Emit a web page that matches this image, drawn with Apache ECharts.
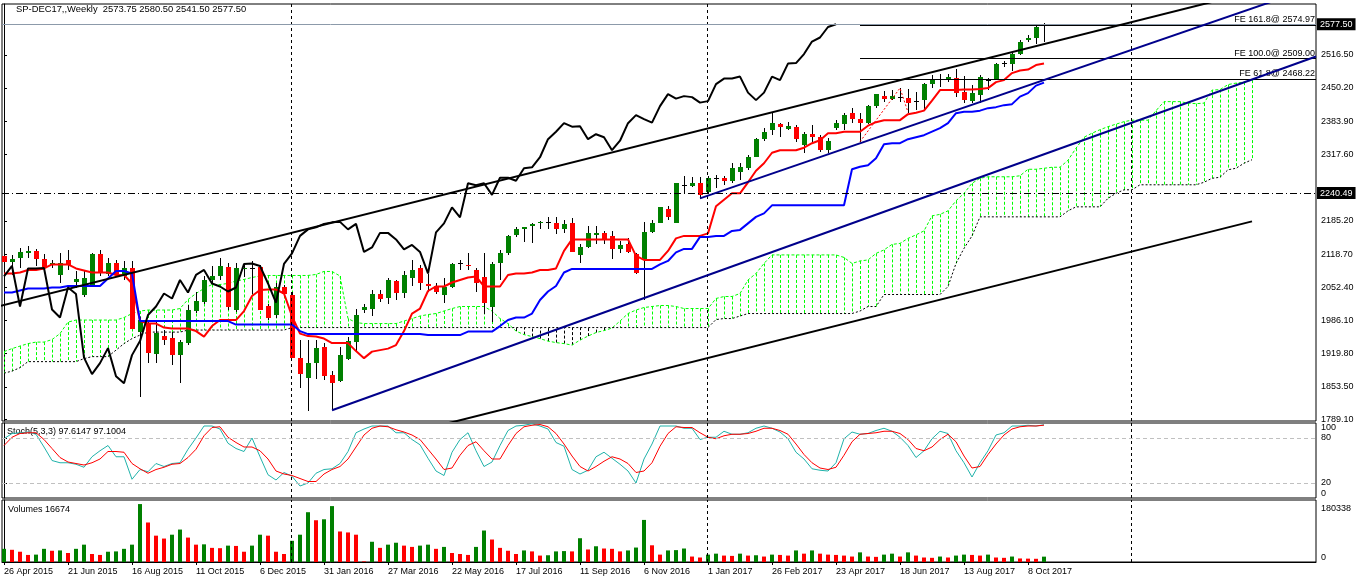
<!DOCTYPE html>
<html>
<head>
<meta charset="utf-8">
<script src="https://cdn.jsdelivr.net/npm/echarts@6/dist/echarts.min.js"></script>
<style>
html,body{margin:0;padding:0;background:#fff;}
#chart{width:1358px;height:584px;}
</style>
</head>
<body>
<div id="chart"></div>
<script>
// weekly bars, SP-DEC17, 26 Apr 2015 .. 22 Oct 2017
var opens = [2115,2103,2111,2120,2125,2108,2097,2076,2106,2062,
 2038,2057,2119,2078,2100,2074,2090,1963,1982,1919,
 1955,1951,1917,1942,2005,2024,2067,2074,2092,2007,
 2089,2090,2092,2015,1997,2052,2038,1911,1871,1902,
 1933,1877,1866,1909,1944,2008,2010,2039,2032,2064,
 2042,2070,2090,2059,2054,2038,2052,2101,2097,2086,
 2072,2014,2100,2120,2156,2168,2175,2181,2183,2181,
 2168,2180,2117,2132,2157,2161,2155,2128,2139,2119,
 2108,2163,2181,2208,2181,2256,2255,2260,2243,2271,
 2270,2264,2283,2291,2313,2348,2366,2378,2368,2373,
 2336,2358,2352,2326,2370,2378,2401,2388,2380,2414,
 2435,2428,2432,2431,2424,2426,2458,2469,2468,2471,
 2443,2425,2436,2467,2467,2500,2498,2518,2546,2551,
 2573.75];
var highs = [2120,2117,2130,2135,2128,2119,2107,2120,2126,2084,
 2086,2120,2126,2110,2107,2104,2105,1994,1987,1984,
 1967,1964,1947,2017,2044,2074,2094,2110,2100,2100,
 2096,2104,2097,2020,2060,2057,2044,1948,1947,1947,
 1941,1886,1934,1954,2010,2019,2047,2047,2070,2067,
 2084,2107,2097,2079,2060,2070,2100,2107,2120,2090,
 2120,2102,2127,2157,2172,2173,2180,2185,2192,2192,
 2187,2190,2139,2175,2175,2165,2165,2145,2150,2120,
 2182,2187,2213,2215,2261,2274,2272,2272,2274,2276,
 2274,2300,2300,2316,2350,2370,2400,2380,2383,2376,
 2363,2376,2356,2350,2386,2400,2410,2400,2416,2438,
 2445,2446,2450,2448,2443,2461,2476,2478,2478,2489,
 2474,2456,2476,2470,2501,2505,2521,2547,2556,2576,
 2580.5];
var lows = [2095,2077,2090,2110,2094,2088,2090,2060,2087,2050,
 2034,2054,2074,2074,2072,2067,1969,1834,1901,1901,
 1937,1897,1862,1937,2002,2020,2060,2067,2007,2004,
 2072,2040,2007,1987,1992,2034,1911,1851,1806,1870,
 1867,1807,1864,1907,1924,2002,1995,2024,2020,2027,
 2032,2054,2047,2044,2040,2022,2050,2086,2087,2044,
 2000,1984,2067,2117,2152,2143,2141,2168,2168,2159,
 2160,2123,2101,2130,2139,2139,2108,2120,2120,2079,
 2027,2161,2180,2187,2180,2241,2253,2228,2241,2250,
 2256,2260,2266,2286,2312,2345,2356,2353,2366,2343,
 2320,2340,2323,2320,2366,2366,2381,2343,2378,2410,
 2423,2426,2423,2401,2406,2406,2451,2453,2463,2432,
 2421,2421,2420,2446,2466,2493,2484,2516,2543,2539,
 2541.5];
var closes = [2102,2108,2122,2125,2108,2092,2100,2100,2097,2068,
 2070,2119,2080,2100,2077,2090,1970,1987,1921,1962,
 1948,1917,1944,2008,2026,2067,2074,2095,2014,2090,
 2090,2091,2008,1992,2052,2039,1912,1879,1901,1931,
 1875,1861,1917,1945,1997,2014,2040,2030,2067,2042,
 2077,2087,2060,2054,2044,2052,2099,2100,2095,2060,
 2022,2099,2120,2155,2168,2172,2179,2182,2183,2168,
 2179,2123,2132,2161,2161,2148,2128,2137,2123,2080,
 2162,2180,2212,2192,2260,2256,2260,2237,2271,2271,
 2265,2290,2292,2312,2348,2363,2380,2373,2374,2348,
 2358,2352,2326,2345,2380,2396,2388,2381,2414,2438,
 2429,2434,2432,2421,2424,2458,2469,2469,2473,2441,
 2426,2441,2473,2466,2499,2500,2518,2543,2551,2572,
 2577.5];

var volumes = [41000,38000,32000,22000,23000,41000,35000,36000,28000,41000,
 54000,25000,22000,32000,33000,41000,54000,180338,123000,82000,
 73000,85000,101000,76000,54000,55000,44000,43000,51000,50000,
 32000,51000,85000,82000,32000,25000,66000,85000,155000,130000,
 133000,174000,95000,92000,85000,2000,63000,44000,54000,60000,
 51000,47000,51000,54000,41000,47000,28000,25000,22000,47000,
 98000,70000,44000,35000,25000,36000,33000,20000,21000,33000,
 34000,33000,74000,39000,49000,42000,41000,33000,36000,45000,
 131000,52000,23000,36000,37000,42000,17000,14000,23000,26000,
 20000,19000,26000,20000,21000,17000,23000,22000,20000,36000,
 26000,36000,26000,23000,22000,20000,17000,30000,17000,16000,
 23000,26000,17000,30000,20000,14000,13000,17000,14000,20000,
 23000,22000,20000,23000,14000,13000,17000,11000,10500,10000,
 16674];
var volumeUp = [1,0,0,0,1,1,0,1,0,1,
 1,0,0,1,1,1,1,1,0,0,
 0,1,1,0,0,1,0,0,1,0,
 0,1,1,0,0,0,1,1,1,0,
 1,1,0,0,0,0,1,0,1,1,
 0,0,1,1,0,1,0,0,0,1,
 1,0,0,0,0,1,0,0,1,1,
 1,0,1,0,1,0,0,0,1,1,
 1,0,0,1,1,1,0,0,1,1,
 0,0,1,0,1,0,1,0,0,1,
 0,1,0,0,0,0,0,1,0,0,
 1,1,0,1,0,0,0,1,0,1,
 1,0,0,1,0,0,1,0,0,0,
 1];

var stochMain = [79,86,87,88,85,68,50,47,47,45,
 41,55,63,70,55,55,25,38,35,46,
 42,46,47,65,80,96,96,92,73,66,
 62,80,55,31,24,34,29,16,20,33,
 38,39,46,62,87,92,96,96,96,87,
 87,78,71,53,36,30,61,78,87,63,
 42,48,70,90,96,97,99,96,92,74,
 69,38,32,37,55,61,53,45,36,20,
 52,72,96,96,96,93,93,78,81,81,
 89,85,85,87,93,96,93,88,79,61,
 52,39,37,36,47,79,88,85,86,90,
 93,89,81,70,54,63,79,89,86,63,
 47,28,47,63,84,87,96,96,97,96,
 97.6147];
var stochSignal = [70,81,86,87,87,78,66,54,48,46,
 44,47,52,62,62,61,46,39,33,38,
 41,45,46,54,65,83,94,95,81,74,
 68,68,63,52,36,32,30,26,22,22,
 32,38,42,52,68,84,93,96,95,91,
 88,84,78,65,52,38,40,57,70,75,
 63,52,52,70,86,95,97,98,95,86,
 72,56,42,36,42,49,55,52,46,34,
 36,47,69,86,95,94,94,87,81,79,
 83,85,85,86,89,93,93,90,85,72,
 58,47,40,38,41,57,75,85,86,87,
 89,89,86,78,66,63,68,78,85,75,
 56,40,42,58,72,84,92,95,96,96,
 97.1004];
var stochLevels = [20, 80];

var tenkan = [2080,2080,2082,2087,2087,2090,2098,2098,2098,2090,
 2086,2082,2082,2082,2077,2077,2060,1985,1980,1980,
 1972,1970,1970,1970,1965,1954,1975,1987,1987,1987,
 2005,2035,2047,2048,2048,2040,1995,1960,1955,1954,
 1950,1941,1941,1941,1925,1911,1924,1927,1930,1937,
 1965,2000,2010,2045,2054,2054,2062,2067,2072,2074,
 2054,2054,2054,2077,2080,2080,2082,2087,2087,2090,
 2125,2148,2148,2148,2148,2148,2148,2148,2148,2115,
 2107,2107,2107,2125,2150,2155,2155,2155,2160,2214,
 2227,2240,2240,2262,2285,2300,2321,2326,2326,2326,
 2331,2340,2346,2360,2360,2363,2363,2363,2375,2382,
 2386,2386,2386,2398,2401,2405,2425,2446,2446,2446,
 2447,2447,2448,2450,2462,2466,2480,2485,2487,2496,
 2499];
var kijun = [2042,2042,2046,2050,2050,2050,2052,2052,2055,2055,
 2055,2055,2055,2070,2085,2085,2080,1985,1985,1985,
 1985,1985,1985,1985,1985,1985,1985,1985,1985,1978,
 1978,1978,1978,1978,1978,1978,1978,1965,1959,1959,
 1959,1959,1959,1959,1959,1959,1959,1959,1959,1959,
 1959,1959,1959,1957,1957,1957,1957,1957,1964,1964,
 1964,1964,1975,1987,1992,1992,2000,2027,2044,2055,
 2082,2089,2089,2089,2089,2089,2089,2089,2089,2089,
 2089,2089,2098,2105,2122,2129,2129,2153,2153,2155,
 2155,2165,2167,2180,2193,2200,2216,2216,2216,2216,
 2216,2216,2216,2216,2216,2216,2288,2293,2296,2310,
 2338,2340,2340,2348,2352,2356,2363,2370,2380,2400,
 2403,2403,2405,2410,2412,2416,2418,2433,2440,2455,
 2461];
// cloud runs 26 weeks past the last bar
var spanA = [1924,1930,1935,1940,1943,1943,1948,1960,1983,1987,
 1987,1987,1987,1987,1987,1992,2000,2005,2007,2007,
 2007,2007,2010,2028,2040,2050,2058,2058,2060,2065,
 2068,2072,2075,2076,2076,2076,2076,2076,2076,2078,
 2084,2084,2075,1990,1982,1980,1980,1980,1980,1980,
 1985,1990,1995,1998,2000,2005,2010,2014,2014,2014,
 2014,2005,1990,1980,1965,1958,1954,1950,1945,1942,
 1940,1937,1947,1955,1962,1966,1971,1985,2000,2007,
 2012,2014,2016,2016,2014,2010,2010,2010,2010,2030,
 2034,2034,2040,2067,2080,2100,2117,2117,2117,2117,
 2117,2117,2117,2117,2117,2112,2100,2105,2107,2120,
 2127,2138,2140,2150,2157,2165,2195,2198,2205,2225,
 2240,2260,2270,2273,2273,2273,2273,2275,2288,2288,
 2290,2292,2292,2306,2330,2352,2360,2367,2373,2378,
 2383,2386,2386,2386,2405,2423,2423,2423,2420,2419,
 2420,2446,2447,2457,2460,2462,2466];
var spanB = [1881,1885,1892,1904,1904,1904,1904,1904,1904,1904,
 1910,1914,1914,1914,1927,1940,1950,1957,1963,1963,
 1963,1963,1963,1967,1967,1967,1967,1967,1967,1967,
 1967,1967,1967,1967,1967,1967,1972,1972,1972,1972,
 1972,1972,1972,1972,1972,1972,1972,1972,1972,1972,
 1972,1972,1972,1972,1972,1972,1972,1972,1972,1972,
 1972,1972,1972,1972,1972,1972,1972,1972,1972,1972,
 1972,1972,1972,1972,1972,1972,1972,1972,1972,1972,
 1972,1972,1972,1972,1972,1972,1972,1972,1972,1988,
 1990,1990,1995,2000,2000,2000,2000,2000,2000,2000,
 2000,2000,2000,2000,2000,2000,2000,2005,2014,2014,
 2038,2038,2038,2038,2038,2038,2038,2038,2054,2100,
 2130,2155,2193,2193,2193,2193,2193,2193,2193,2193,
 2193,2193,2193,2205,2213,2213,2213,2213,2230,2240,
 2247,2247,2257,2257,2257,2257,2257,2257,2257,2257,
 2262,2270,2272,2287,2290,2300,2307];
var chikouShift = 26;

var dateLabels = ["26 Apr 2015","21 Jun 2015","16 Aug 2015","11 Oct 2015","6 Dec 2015",
 "31 Jan 2016","27 Mar 2016","22 May 2016","17 Jul 2016","11 Sep 2016","6 Nov 2016",
 "1 Jan 2017","26 Feb 2017","23 Apr 2017","18 Jun 2017","13 Aug 2017","8 Oct 2017"];
var dateLabelBars = [0,8,16,24,32,40,48,56,64,72,80,88,96,104,112,120,128];
var priceTicks = [1789.1,1853.5,1919.8,1986.1,2052.4,2118.7,2185.2,2317.6,2383.9,2450.2,2516.5];
var yearSeparators = [36, 88, 141];

var hLinePrice = 2240.49;
var fiboLabels = ["FE 161.8@ 2574.97","FE 100.0@ 2509.00","FE 61.8@ 2468.22"];
var fiboPrices = [2574.97, 2509.00, 2468.22];
var fiboStartBar = 107;
var fiboBase = [[107, 2343], [112, 2450], [113, 2402]];

var upperBlackLine = [[-1, 2013], [152, 2626]];
var lowerBlackLine = [[55, 1779], [156, 2184]];
var lowerNavyLine = [[41, 1807], [164, 2513]];
var upperNavyLine = [[87, 2230], [160, 2631]];

var FONT = '"Liberation Sans", Arial, sans-serif';
var lastBar = closes.length - 1;
var xMin = -0.25, xMax = 164;

function pairs(arr, shift) {
	shift = shift || 0;
	return arr.map(function(v, i) { return [i - shift, v]; });
}

function renderCandle(params, api) {
	var i = api.value(0);
	var pO = api.coord([i, api.value(1)]);
	var pH = api.coord([i, api.value(2)]);
	var pL = api.coord([i, api.value(3)]);
	var pC = api.coord([i, api.value(4)]);
	var x = Math.round(pO[0]);
	var top = Math.round(Math.min(pO[1], pC[1]));
	var bot = Math.round(Math.max(pO[1], pC[1]));
	var kids = [{
		type: 'line',
		shape: {x1: x + 0.5, y1: Math.round(pH[1]), x2: x + 0.5, y2: Math.round(pL[1])},
		style: {stroke: '#000', lineWidth: 1}
	}];
	if (bot - top < 1) {
		kids.push({type: 'line', shape: {x1: x - 2, y1: top + 0.5, x2: x + 3, y2: top + 0.5}, style: {stroke: '#000', lineWidth: 1}});
	} else {
		kids.push({type: 'rect', shape: {x: x - 2, y: top, width: 5, height: bot - top},
			style: {fill: api.value(4) >= api.value(1) ? '#008000' : '#ff0000'}});
	}
	return {type: 'group', children: kids};
}

function renderCloud(params, api) {
	var i = api.value(0), a = api.value(1), b = api.value(2);
	var pA = api.coord([i, a]), pB = api.coord([i, b]);
	var x = Math.round(pA[0]) + 0.5;
	return {
		type: 'line',
		shape: {x1: x, y1: pA[1], x2: x, y2: pB[1]},
		style: {stroke: a >= b ? '#00ff00' : '#000000', lineWidth: 1, lineDash: [3, 2]}
	};
}

function renderVolume(params, api) {
	var i = api.value(0);
	var pT = api.coord([i, api.value(1)]), pB = api.coord([i, 0]);
	var x = Math.round(pT[0]);
	return {
		type: 'rect',
		shape: {x: x - 2, y: pT[1], width: 4, height: pB[1] - pT[1]},
		style: {fill: api.value(2) ? '#008000' : '#ff0000'}
	};
}

function separatorLines() {
	return {
		silent: true, symbol: 'none', animation: false,
		label: {show: false},
		lineStyle: {color: '#000', width: 1, type: [3, 3]},
		data: yearSeparators.map(function(b) { return {xAxis: b - 0.12}; })
	};
}

function boxLabel(text) {
	return {show: true, position: 'end', formatter: text, backgroundColor: '#000', color: '#fff',
		padding: [2, 3, 1, 3], fontSize: 9, fontFamily: FONT, distance: 1};
}

var mainMarks = separatorLines();
mainMarks.data = mainMarks.data.concat([
	{yAxis: closes[lastBar], lineStyle: {color: '#8c9aaa', type: 'solid', width: 1}, label: boxLabel(closes[lastBar].toFixed(2))},
	{yAxis: hLinePrice, lineStyle: {color: '#000', type: [7, 3, 1, 3], width: 1}, label: boxLabel(hLinePrice.toFixed(2))}
]);
fiboPrices.forEach(function(p, k) {
	mainMarks.data.push([
		{coord: [fiboStartBar, p], lineStyle: {color: '#000', type: 'solid', width: 1},
			label: {show: true, position: 'insideEndTop', formatter: fiboLabels[k], color: '#000', fontSize: 9, fontFamily: FONT, distance: 1}},
		{coord: [xMax, p]}
	]);
});

function trend(points, color, width, dash) {
	return {type: 'line', xAxisIndex: 0, yAxisIndex: 0, data: points, symbol: 'none', silent: true,
		lineStyle: {color: color, width: width, type: dash || 'solid'}, z: 6, animation: false};
}

var option = {
	animation: false,
	backgroundColor: '#fff',
	textStyle: {fontFamily: FONT, fontSize: 9},
	grid: [
		{left: 2, top: 4, width: 1314, height: 417, show: true, borderColor: '#000', borderWidth: 1, backgroundColor: '#fff'},
		{left: 2, top: 423, width: 1314, height: 75, show: true, borderColor: '#000', borderWidth: 1},
		{left: 2, top: 500, width: 1314, height: 62, show: true, borderColor: '#000', borderWidth: 1}
	],
	xAxis: [
		{gridIndex: 0, type: 'value', min: xMin, max: xMax, show: false},
		{gridIndex: 1, type: 'value', min: xMin, max: xMax, show: false},
		{gridIndex: 2, type: 'value', min: xMin, max: xMax,
			axisLine: {show: true, lineStyle: {color: '#000'}},
			axisTick: {show: true, customValues: dateLabelBars, length: 3, lineStyle: {color: '#000'}},
			axisLabel: {customValues: dateLabelBars, align: 'left', margin: 5, color: '#000', fontSize: 9, fontFamily: FONT,
				formatter: function(v) { return dateLabels[dateLabelBars.indexOf(v)]; }},
			splitLine: {show: false}}
	],
	yAxis: [
		{gridIndex: 0, type: 'value', position: 'right', min: 1785.5, max: 2617.9,
			axisLine: {show: true, lineStyle: {color: '#000'}},
			axisTick: {show: true, customValues: priceTicks, length: 3, lineStyle: {color: '#000'}},
			axisLabel: {customValues: priceTicks, margin: 5, color: '#000', fontSize: 9, fontFamily: FONT, padding: [3, 0, 0, 0],
				formatter: function(v) { return v.toFixed(2); }},
			splitLine: {show: false}},
		{gridIndex: 1, type: 'value', position: 'right', min: 0, max: 100,
			axisLine: {show: true, lineStyle: {color: '#000'}},
			axisTick: {show: true, customValues: stochLevels, length: 3, lineStyle: {color: '#000'}},
			axisLabel: {customValues: stochLevels, margin: 5, color: '#000', fontSize: 9, fontFamily: FONT},
			splitLine: {show: false}},
		{gridIndex: 1, type: 'value', position: 'right', min: 0, max: 100,
			axisLine: {show: false}, axisTick: {show: false},
			axisLabel: {customValues: [100], margin: 5, color: '#000', fontSize: 9, fontFamily: FONT, verticalAlign: 'top'},
			splitLine: {show: false}},
		{gridIndex: 1, type: 'value', position: 'right', min: 0, max: 100,
			axisLine: {show: false}, axisTick: {show: false},
			axisLabel: {customValues: [0], margin: 5, color: '#000', fontSize: 9, fontFamily: FONT, verticalAlign: 'bottom'},
			splitLine: {show: false}},
		{gridIndex: 2, type: 'value', position: 'right', min: 0, max: 193000,
			axisLine: {show: true, lineStyle: {color: '#000'}}, axisTick: {show: false},
			axisLabel: {customValues: [volumes[17]], margin: 5, color: '#000', fontSize: 9, fontFamily: FONT, verticalAlign: 'top',
				formatter: function(v) { return String(v); }},
			splitLine: {show: false}},
		{gridIndex: 2, type: 'value', position: 'right', min: 0, max: 193000,
			axisLine: {show: false}, axisTick: {show: false},
			axisLabel: {customValues: [0], margin: 5, color: '#000', fontSize: 9, fontFamily: FONT, verticalAlign: 'bottom',
				formatter: function(v) { return String(v); }},
			splitLine: {show: false}}
	],
	series: [
		{type: 'custom', name: 'Kumo', xAxisIndex: 0, yAxisIndex: 0, clip: true, silent: true, z: 1,
			renderItem: renderCloud, encode: {x: 0, y: [1, 2]},
			data: spanA.map(function(a, i) { return [i, a, spanB[i]]; })},
		{type: 'line', name: 'Senkou A', xAxisIndex: 0, yAxisIndex: 0, data: pairs(spanA), symbol: 'none', silent: true, z: 2,
			lineStyle: {color: '#00ff00', width: 1, type: [3, 2]}},
		{type: 'line', name: 'Senkou B', xAxisIndex: 0, yAxisIndex: 0, data: pairs(spanB), symbol: 'none', silent: true, z: 2,
			lineStyle: {color: '#000', width: 1, type: [2, 2]}},
		{type: 'custom', name: 'SP-DEC17', xAxisIndex: 0, yAxisIndex: 0, clip: true, z: 3,
			renderItem: renderCandle, encode: {x: 0, y: [1, 2, 3, 4]},
			data: opens.map(function(o, i) { return [i, o, highs[i], lows[i], closes[i]]; })},
		{type: 'line', name: 'Tenkan', xAxisIndex: 0, yAxisIndex: 0, data: pairs(tenkan), symbol: 'none', silent: true, z: 4,
			lineStyle: {color: '#ff0000', width: 2}, markLine: mainMarks},
		{type: 'line', name: 'Kijun', xAxisIndex: 0, yAxisIndex: 0, data: pairs(kijun), symbol: 'none', silent: true, z: 4,
			lineStyle: {color: '#0000ff', width: 2}},
		{type: 'line', name: 'Chikou', xAxisIndex: 0, yAxisIndex: 0, data: pairs(closes, chikouShift).slice(chikouShift), symbol: 'none', silent: true, z: 4,
			lineStyle: {color: '#000', width: 2}},
		trend(upperBlackLine, '#000', 2),
		trend(lowerBlackLine, '#000', 2),
		trend(lowerNavyLine, '#00008b', 2),
		trend(upperNavyLine, '#00008b', 2),
		trend(fiboBase, '#ff0000', 1, [2, 2]),

		{type: 'line', name: 'Main', xAxisIndex: 1, yAxisIndex: 1, data: pairs(stochMain), symbol: 'none', silent: true, z: 3,
			lineStyle: {color: '#20b2aa', width: 1},
			markLine: (function() {
				var m = separatorLines();
				m.data = m.data.concat(stochLevels.map(function(l) {
					return {yAxis: l, lineStyle: {color: '#c0c0c0', type: [4, 3], width: 1}};
				}));
				return m;
			})()},
		{type: 'line', name: 'Signal', xAxisIndex: 1, yAxisIndex: 1, data: pairs(stochSignal), symbol: 'none', silent: true, z: 4,
			lineStyle: {color: '#ff0000', width: 1}},

		{type: 'custom', name: 'Volumes', xAxisIndex: 2, yAxisIndex: 4, clip: true, silent: true,
			renderItem: renderVolume, encode: {x: 0, y: 1},
			data: volumes.map(function(v, i) { return [i, v, volumeUp[i]]; }),
			markLine: separatorLines()}
	],
	graphic: [
		{type: 'text', left: 16, top: 5, silent: true,
			style: {text: 'SP-DEC17,,Weekly  ' + [opens[lastBar], highs[lastBar], lows[lastBar], closes[lastBar]].map(function(v) { return v.toFixed(2); }).join(' '),
				font: '9.4px ' + FONT, fill: '#000'}},
		{type: 'text', left: 7, top: 427, silent: true,
			style: {text: 'Stoch(5,3,3) ' + stochMain[lastBar].toFixed(4) + ' ' + stochSignal[lastBar].toFixed(4), font: '9px ' + FONT, fill: '#000'}},
		{type: 'text', left: 8, top: 505, silent: true,
			style: {text: 'Volumes ' + volumes[lastBar], font: '9px ' + FONT, fill: '#000'}}
	]
};

var chart = echarts.init(document.getElementById('chart'));
chart.setOption(option);
</script>
</body>
</html>
